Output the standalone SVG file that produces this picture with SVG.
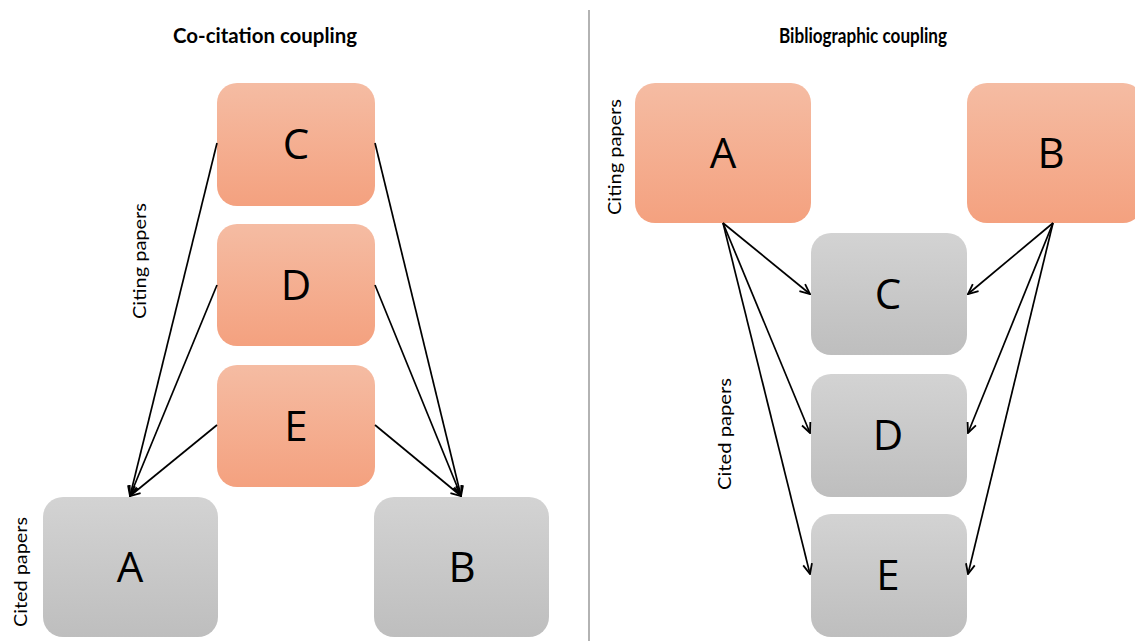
<svg xmlns="http://www.w3.org/2000/svg" width="1135" height="641" viewBox="0 0 1135 641">
<defs>
<linearGradient id="gOr" x1="0" y1="0" x2="0" y2="1">
<stop offset="0" stop-color="#F5BCA3"/>
<stop offset="1" stop-color="#F4A17F"/>
</linearGradient>
<linearGradient id="gGr" x1="0" y1="0" x2="0" y2="1">
<stop offset="0" stop-color="#D3D3D3"/>
<stop offset="1" stop-color="#BEBEBE"/>
</linearGradient>
<marker id="arr" viewBox="0 0 12 12" refX="11" refY="6" markerWidth="12" markerHeight="12" markerUnits="userSpaceOnUse" orient="auto">
<path d="M1,1.5 L11,6 L1,10.5" fill="none" stroke="#000" stroke-width="1.8"/>
</marker>
<style>
.or{fill:url(#gOr);}
.gr{fill:url(#gGr);}
.lt{font-family:"Open Sans","Liberation Sans",sans-serif;font-size:42px;fill:#000;text-anchor:middle;}
.ti{font-family:Lato,"Open Sans","Liberation Sans",sans-serif;font-size:20px;font-weight:bold;fill:#000;text-anchor:middle;}
.lb{font-family:Lato,"Open Sans","Liberation Sans",sans-serif;font-size:17px;fill:#000;text-anchor:middle;}
.cn line{stroke:#000;stroke-width:1.7;marker-end:url(#arr);}
</style>
</defs>
<rect width="1135" height="641" fill="#fff"/>
<line x1="589" y1="10" x2="589" y2="641" stroke="#B3B3B3" stroke-width="2"/>
<text class="ti" x="265" y="43" textLength="184" lengthAdjust="spacingAndGlyphs">Co-citation coupling</text>
<text class="ti" x="863" y="43" textLength="168" lengthAdjust="spacingAndGlyphs">Bibliographic coupling</text>
<text class="lb" transform="translate(146,261) rotate(-90)" textLength="116" lengthAdjust="spacingAndGlyphs">Citing papers</text>
<text class="lb" transform="translate(27,572) rotate(-90)" textLength="110" lengthAdjust="spacingAndGlyphs">Cited papers</text>
<text class="lb" transform="translate(621,157) rotate(-90)" textLength="116" lengthAdjust="spacingAndGlyphs">Citing papers</text>
<text class="lb" transform="translate(731,434) rotate(-90)" textLength="112" lengthAdjust="spacingAndGlyphs">Cited papers</text>
<g id="left-C"><rect class="or" x="217" y="83" width="158" height="123" rx="20"/><text class="lt" x="296" y="159">C</text></g>
<g id="left-D"><rect class="or" x="217" y="224" width="158" height="122" rx="20"/><text class="lt" x="296" y="300">D</text></g>
<g id="left-E"><rect class="or" x="217" y="365" width="158" height="122" rx="20"/><text class="lt" x="296" y="441">E</text></g>
<g id="left-A"><rect class="gr" x="43" y="497" width="175" height="140" rx="20"/><text class="lt" x="130" y="582">A</text></g>
<g id="left-B"><rect class="gr" x="374" y="497" width="175" height="140" rx="20"/><text class="lt" x="462" y="582">B</text></g>
<g id="right-A"><rect class="or" x="635" y="83" width="176" height="140" rx="20"/><text class="lt" x="723" y="168">A</text></g>
<g id="right-B"><rect class="or" x="967" y="83" width="176" height="140" rx="20"/><text class="lt" x="1051" y="168">B</text></g>
<g id="right-C"><rect class="gr" x="811" y="233" width="156" height="122" rx="20"/><text class="lt" x="888" y="309">C</text></g>
<g id="right-D"><rect class="gr" x="811" y="374" width="156" height="123" rx="20"/><text class="lt" x="888" y="450">D</text></g>
<g id="right-E"><rect class="gr" x="811" y="514" width="156" height="123" rx="20"/><text class="lt" x="888" y="590">E</text></g>
<g id="connectors" class="cn">
<line x1="217" y1="143" x2="130" y2="496"/>
<line x1="217" y1="285" x2="130" y2="496"/>
<line x1="217" y1="425" x2="130" y2="496"/>
<line x1="375" y1="143" x2="461" y2="496"/>
<line x1="375" y1="285" x2="461" y2="496"/>
<line x1="375" y1="425" x2="461" y2="496"/>
<line x1="723" y1="223" x2="810" y2="294"/>
<line x1="723" y1="223" x2="810" y2="433"/>
<line x1="723" y1="223" x2="810" y2="574"/>
<line x1="1053" y1="223" x2="968" y2="294"/>
<line x1="1053" y1="223" x2="968" y2="433"/>
<line x1="1053" y1="223" x2="968" y2="574"/>
</g>
</svg>
